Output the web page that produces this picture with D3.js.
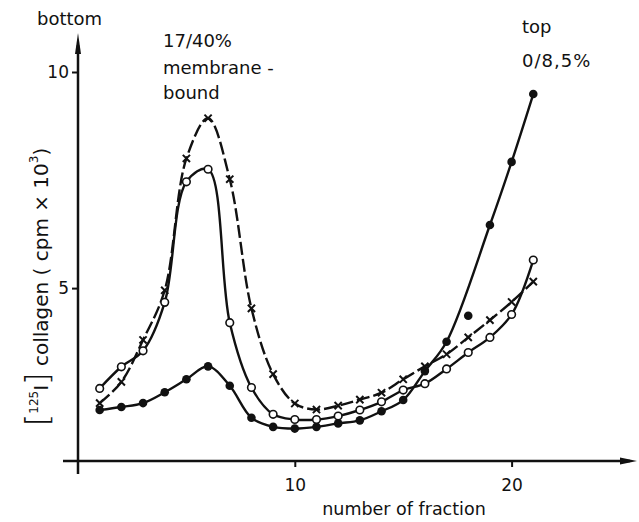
<!DOCTYPE html>
<html>
<head>
<meta charset="utf-8">
<script src="https://cdn.jsdelivr.net/npm/d3@7"></script>
<style>
  body { margin: 0; background: #fff; }
  text { font-family: 'DejaVu Sans', sans-serif; fill: #111; }
</style>
</head>
<body>
<div id="chart"></div>
<script>
// fraction numbers and the three series (cpm x 10^3)
const fractions = d3.range(1, 22)
const filled = [2.18, 2.25, 2.34, 2.59, 2.89, 3.19, 2.74, 2.0, 1.79, 1.75, 1.79, 1.87, 1.94, 2.15, 2.41, 3.08, 3.76, 4.36, 6.46, 7.92, 9.49]
const open = [2.68, 3.18, 3.55, 4.67, 7.46, 7.75, 4.2, 2.7, 2.08, 1.96, 1.96, 2.04, 2.18, 2.37, 2.64, 2.79, 3.13, 3.51, 3.86, 4.39, 5.65]
const crosses = [2.34, 2.83, 3.8, 4.95, 8.0, 8.93, 7.52, 4.53, 3.01, 2.33, 2.19, 2.28, 2.42, 2.58, 2.89, 3.19, 3.47, 3.86, 4.26, 4.68, 5.15]
// filled point of fraction 18 lies off its drawn curve
const filledOffCurve = [18]
const xTicks = [10, 20]
const yTicks = [5, 10]

const width = 639
const height = 522

const svg = d3.select('#chart')
  .append('svg')
  .attr('width', width)
  .attr('height', height)

const x = d3.scaleLinear().domain([0, 25]).range([78, 620])
const y = d3.scaleLinear().domain([1, 10]).range([461, 72])

const ink = '#111'

// axes
const xAxis = svg.append('g')
  .attr('transform', `translate(0, ${y(1)})`)
  .call(d3.axisBottom(x).tickValues(xTicks).tickSize(6).tickSizeOuter(0).tickPadding(6))
xAxis.select('.domain').remove()
xAxis.selectAll('line').attr('stroke', ink).attr('stroke-width', 2)
xAxis.selectAll('text').attr('font-size', 17).attr('dy', '1.05em')

const yAxis = svg.append('g')
  .attr('transform', `translate(${x(0)}, 0)`)
  .call(d3.axisLeft(y).tickValues(yTicks).tickSize(6).tickSizeOuter(0).tickPadding(3))
yAxis.select('.domain').remove()
yAxis.selectAll('line').attr('stroke', ink).attr('stroke-width', 2)
yAxis.selectAll('text').attr('font-size', 17)

svg.append('line')
  .attr('x1', 63).attr('x2', 630)
  .attr('y1', y(1)).attr('y2', y(1))
  .attr('stroke', ink).attr('stroke-width', 2.5)
svg.append('path')
  .attr('d', `M637,${y(1)} L620,${y(1) - 3.5} L620,${y(1) + 3.5} Z`)
  .attr('fill', ink)

svg.append('line')
  .attr('x1', x(0)).attr('x2', x(0))
  .attr('y1', 474).attr('y2', 45)
  .attr('stroke', ink).attr('stroke-width', 2.5)
svg.append('path')
  .attr('d', `M${x(0)},33 L${x(0) - 3},54 L${x(0) + 3},54 Z`)
  .attr('fill', ink)

// curves
const line = d3.line()
  .x(d => x(d[0]))
  .y(d => y(d[1]))
  .curve(d3.curveCatmullRom.alpha(0.5))

const pts = vals => fractions.map((f, i) => [f, vals[i]])

svg.append('path')
  .attr('d', line(pts(crosses)))
  .attr('fill', 'none').attr('stroke', ink).attr('stroke-width', 2.4)
  .attr('stroke-dasharray', '13,4')

svg.append('path')
  .attr('d', line(pts(open)))
  .attr('fill', 'none').attr('stroke', ink).attr('stroke-width', 2.4)

svg.append('path')
  .attr('d', line(pts(filled).filter(d => !filledOffCurve.includes(d[0]))))
  .attr('fill', 'none').attr('stroke', ink).attr('stroke-width', 2.4)

// markers
svg.append('g').selectAll('path')
  .data(pts(crosses))
  .enter()
  .append('path')
    .attr('d', d => {
      const cx = x(d[0]), cy = y(d[1]), s = 3.6
      return `M${cx - s},${cy - s}L${cx + s},${cy + s}M${cx - s},${cy + s}L${cx + s},${cy - s}`
    })
    .attr('stroke', ink).attr('stroke-width', 2)

svg.append('g').selectAll('circle')
  .data(pts(filled))
  .enter()
  .append('circle')
    .attr('cx', d => x(d[0]))
    .attr('cy', d => y(d[1]))
    .attr('r', 4.3)
    .attr('fill', ink)

svg.append('g').selectAll('circle')
  .data(pts(open))
  .enter()
  .append('circle')
    .attr('cx', d => x(d[0]))
    .attr('cy', d => y(d[1]))
    .attr('r', 3.8)
    .attr('fill', '#fff')
    .attr('stroke', ink)
    .attr('stroke-width', 1.6)

// labels
svg.append('text').attr('x', 37).attr('y', 25).attr('font-size', 18).text('bottom')

const peakLabel = svg.append('text').attr('x', 163).attr('font-size', 18)
peakLabel.append('tspan').attr('x', 163).attr('y', 47).text('17/40%')
peakLabel.append('tspan').attr('x', 163).attr('y', 74).text('membrane -')
peakLabel.append('tspan').attr('x', 163).attr('y', 99).text('bound')

const topLabel = svg.append('text').attr('font-size', 18)
topLabel.append('tspan').attr('x', 522).attr('y', 33).text('top')
topLabel.append('tspan').attr('x', 522).attr('y', 67).attr('letter-spacing', 1).text('0/8,5%')

svg.append('text')
  .attr('x', 404).attr('y', 515)
  .attr('font-size', 17.5)
  .attr('text-anchor', 'middle')
  .text('number of fraction')

const yLabel = svg.append('text')
  .attr('transform', 'translate(48, 287) rotate(-90)')
  .attr('text-anchor', 'middle')
  .attr('font-size', 20)
yLabel.append('tspan').attr('font-size', 32).attr('font-weight', 200).text('[')
yLabel.append('tspan').attr('font-size', 12).attr('dy', -10).text('125')
yLabel.append('tspan').attr('dy', 10).text('I')
yLabel.append('tspan').attr('font-size', 32).attr('font-weight', 200).text(']')
yLabel.append('tspan').text(' collagen ( cpm × 10')
yLabel.append('tspan').attr('font-size', 12).attr('dy', -10).text('3')
yLabel.append('tspan').attr('dy', 10).text(')')
</script>
</body>
</html>
